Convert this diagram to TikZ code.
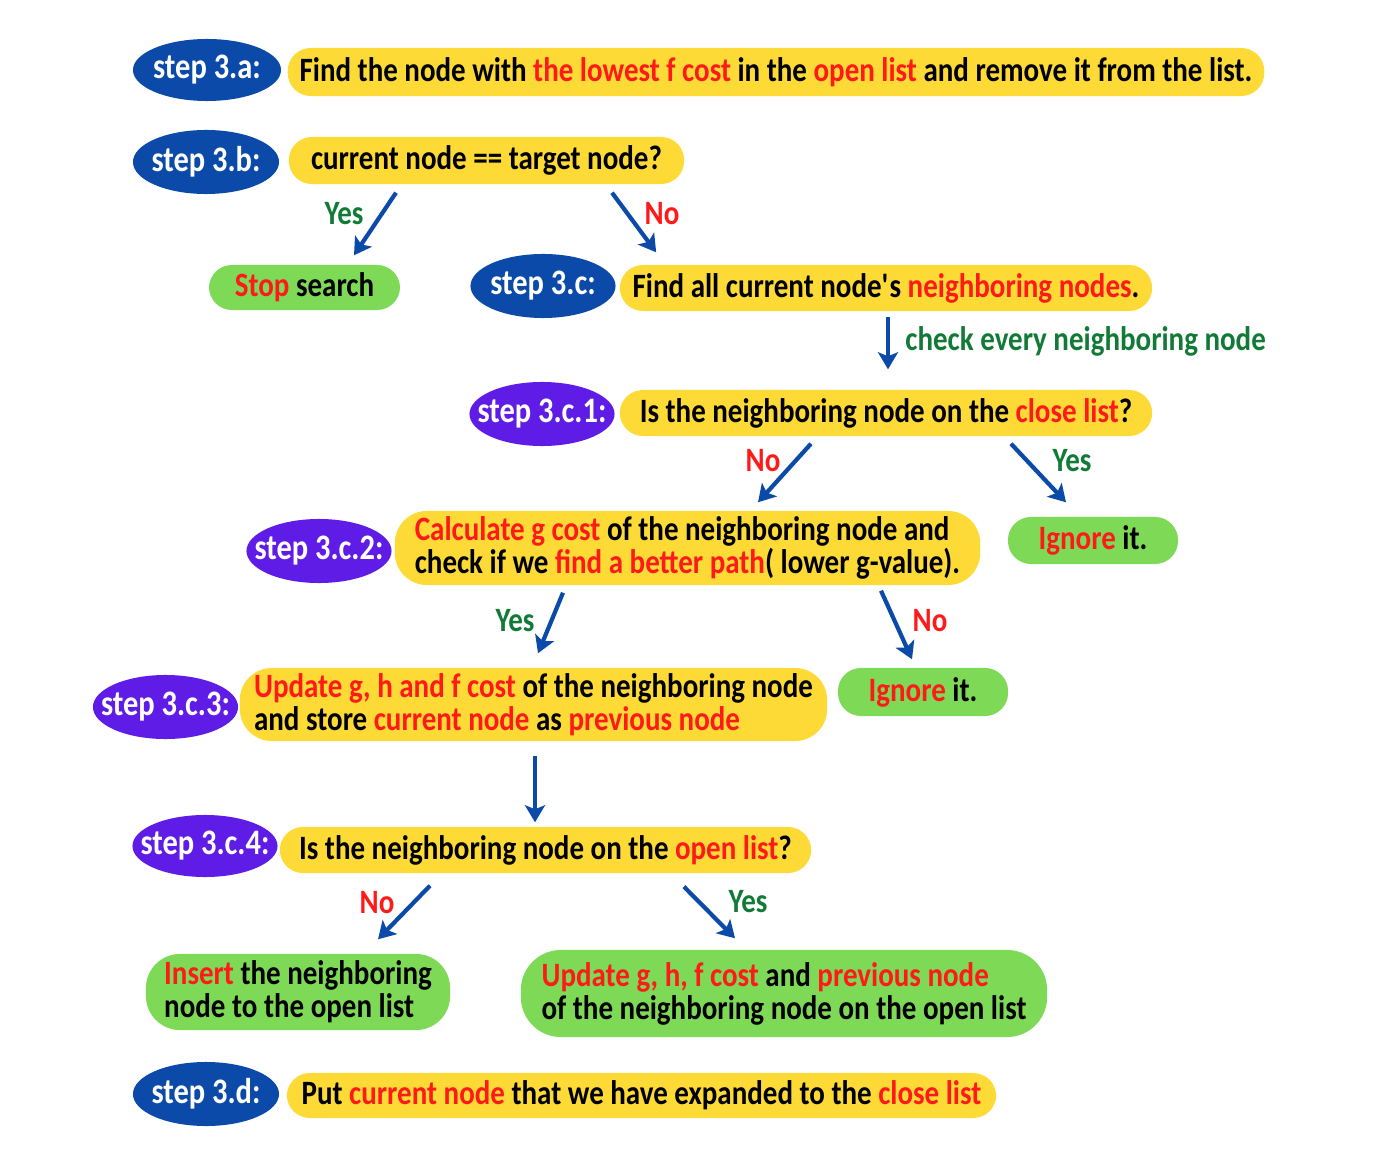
\documentclass[tikz,border=0pt]{standalone}
\usepackage{fontspec}
\setmainfont{Carlito}[FakeStretch=0.85]
\usepackage{xcolor}
\usepackage{tikz}
\usetikzlibrary{shapes.geometric,arrows.meta,calc}

\definecolor{stepblue}{HTML}{0B4AA8}
\definecolor{steppurple}{HTML}{5E1CE6}
\definecolor{boxyellow}{HTML}{FDDA35}
\definecolor{boxgreen}{HTML}{7ED957}
\definecolor{txtred}{HTML}{FF1A1A}
\definecolor{txtgreen}{HTML}{117A36}
\definecolor{arrblue}{HTML}{0B4AA8}
\newcommand\redtxt[1]{\textcolor{txtred}{#1}}

\begin{document}
\begin{tikzpicture}[
    x=0.01cm, y=-0.01cm,
    every node/.style={font=\fontsize{9.7}{9.4}\selectfont\bfseries},
    stepell/.style={ellipse, inner xsep=-4pt, inner ysep=0pt, minimum width=1.45cm, minimum height=0.64cm,
        text=white, font=\fontsize{10.2}{10}\selectfont\bfseries},
    bstep/.style={stepell, fill=stepblue},
    pstep/.style={stepell, fill=steppurple},
    ybox/.style={fill=boxyellow, rounded corners=0.23cm, inner sep=0pt, align=left},
    gbox/.style={fill=boxgreen, rounded corners=0.23cm, inner sep=0pt, align=left},
    yeslbl/.style={text=txtgreen},
    nolbl/.style={text=txtred},
    arr/.style={-{Stealth[length=0.17cm,width=0.2cm,inset=0.04cm]}, line width=1.2pt, draw=arrblue}
]
    \useasboundingbox (0,0) rectangle (1400,1167);

    % step 3.a
    \node[bstep, minimum width=1.48cm, minimum height=0.62cm] (s3a) at (207,70) {step 3.a:};
    \node[ybox, minimum width=9.76cm, minimum height=0.48cm] (t3a) at (776,72)
        {Find the node with \redtxt{the lowest f cost} in the \redtxt{open list} and remove it from the list.};

    % step 3.b
    \node[bstep, minimum width=1.46cm] (s3b) at (206,162) {step 3.b:};
    \node[ybox, minimum width=3.95cm, minimum height=0.47cm] (q3b) at (486.5,160.5) {current node == target node?};
    \node[gbox, minimum width=1.91cm, minimum height=0.45cm] (stop) at (304.5,287.5) {\redtxt{Stop} search};

    % step 3.c
    \node[bstep] (s3c) at (543,286) {step 3.c:};
    \node[ybox, minimum width=5.32cm, minimum height=0.46cm] (t3c) at (886,288)
        {Find all current node\textquotesingle s \redtxt{neighboring nodes}.};

    % step 3.c.1
    \node[pstep] (s3c1) at (542,414) {step 3.c.1:};
    \node[ybox, minimum width=5.32cm, minimum height=0.46cm] (q3c1) at (886,413)
        {Is the neighboring node on the \redtxt{close list}?};
    \node[gbox, minimum width=1.70cm, minimum height=0.47cm] (ignA) at (1093,540.5) {\redtxt{Ignore} it.};

    % step 3.c.2
    \node[pstep] (s3c2) at (319,551) {step 3.c.2:};
    \node[ybox, rounded corners=0.32cm, minimum width=5.85cm, minimum height=0.74cm] (calc) at (687.5,548)
        {\redtxt{Calculate g cost} of the neighboring node and\\check if we \redtxt{find a better path}( lower g-value).};
    \node[gbox, minimum width=1.70cm, minimum height=0.48cm] (ignB) at (923,692) {\redtxt{Ignore} it.};

    % step 3.c.3
    \node[pstep] (s3c3) at (165.5,707) {step 3.c.3:};
    \node[ybox, rounded corners=0.32cm, minimum width=5.87cm, minimum height=0.73cm] (upd) at (533.5,704.5)
        {\redtxt{Update g, h and f cost} of the neighboring node\\and store \redtxt{current node} as \redtxt{previous node}};

    % step 3.c.4
    \node[pstep, minimum height=0.62cm] (s3c4) at (205,846) {step 3.c.4:};
    \node[ybox, minimum width=5.31cm, minimum height=0.46cm] (q3c4) at (545.5,850)
        {Is the neighboring node on the \redtxt{open list}?};
    \node[gbox, rounded corners=0.34cm, minimum width=3.04cm, minimum height=0.76cm] (ins) at (298,992)
        {\redtxt{Insert} the neighboring\\node to the open list};
    \node[gbox, rounded corners=0.4cm, minimum width=5.26cm, minimum height=0.87cm] (updopen) at (784,993.5)
        {\redtxt{Update g, h, f cost} and \redtxt{previous node}\\of the neighboring node on the open list};

    % step 3.d
    \node[bstep, minimum width=1.46cm] (s3d) at (206,1094) {step 3.d:};
    \node[ybox, minimum width=7.09cm, minimum height=0.45cm] (t3d) at (641.5,1095.5)
        {Put \redtxt{current node} that we have expanded to the \redtxt{close list}};

    % branch labels
    \node[yeslbl] (y3b) at (344,214) {Yes};
    \node[nolbl] (n3b) at (662,214) {No};
    \node[yeslbl, anchor=west] (chk) at (893,341) {check every neighboring node};
    \node[nolbl] (n3c1) at (763,461) {No};
    \node[yeslbl] (y3c1) at (1072,461) {Yes};
    \node[yeslbl] (y3c2) at (515,621) {Yes};
    \node[nolbl] (n3c2) at (930,621) {No};
    \node[nolbl] (n3c4) at (377,903) {No};
    \node[yeslbl] (y3c4) at (748,902) {Yes};

    \draw[arr] ($(q3b.south)+(-90.5,8)$) -- ($(stop.north)+(49.5,-9)$);
    \draw[arr] ($(q3b.south)+(125.5,8)$) -- ($(t3c.north west)+(37,-12)$);
    \draw[arr] ($(t3c.south)+(2,5)$) -- ($(q3c1.north)+(2,-20)$);
    \draw[arr] ($(q3c1.south)+(-75,7)$) -- ($(calc.north)+(70.5,-8)$);
    \draw[arr] ($(q3c1.south)+(125,7)$) -- ($(ignA.north)+(-27,-14)$);
    \draw[arr] ($(calc.south)+(-124.5,7)$) -- ($(upd.north)+(4.5,-14)$);
    \draw[arr] ($(calc.south)+(193.5,5)$) -- ($(ignB.north)+(-11,-8)$);
    \draw[arr] ($(upd.south)+(1.5,14)$) -- ($(q3c4.north)+(-10.5,-4)$);
    \draw[arr] ($(q3c4.south)+(-115.5,12)$) -- ($(ins.north)+(80,-14)$);
    \draw[arr] ($(q3c4.south)+(138.5,13)$) -- ($(updopen.north)+(-49,-11)$);
\end{tikzpicture}
\end{document}
